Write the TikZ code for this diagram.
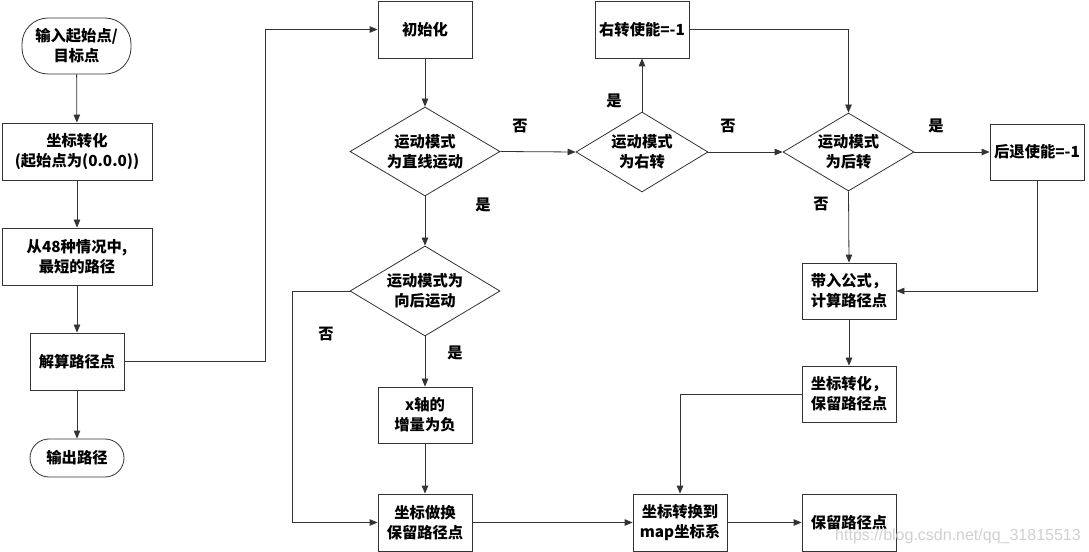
\documentclass[tikz,border=0pt]{standalone}
\usepackage{fontspec}
\setmainfont{Noto Sans CJK SC}[BoldFont={Noto Sans CJK SC Black}]
\newfontfamily\wmfont{Liberation Sans}
\usetikzlibrary{shapes.geometric,arrows.meta}
\newcommand\nodefont{\fontsize{15.3bp}{20bp}\selectfont\bfseries}
\begin{document}
\begin{tikzpicture}[x=1bp,y=-1bp,
  box/.style={draw=black!80, line width=0.8bp, minimum width=94bp, minimum height=57bp, inner sep=0pt, align=center, font=\nodefont},
  term/.style={box, rounded corners=#1},
  dia/.style={draw=black!80, line width=0.8bp, diamond, inner sep=0pt},
  dtext/.style={label={[align=center, font=\nodefont]center:#1}},
  arr/.style={-{Triangle[length=8bp,width=6.5bp]}, draw=black!80, line width=0.8bp},
  ln/.style={draw=black!80, line width=0.8bp},
  lbl/.style={font=\nodefont, inner sep=0pt}]
\useasboundingbox[fill=white] (0,0) rectangle (1089,552);

% left column
\node[term=26bp, minimum width=109bp, minimum height=56bp] (t1) at (76.5,46) {输入起始点/\\目标点};
\node[box, minimum width=150bp] (b1) at (77,151.5) {坐标转化\\(起始点为(0.0.0))};
\node[box, minimum width=150bp] (b2) at (77,256.5) {从48种情况中,\\最短的路径};
\node[box] (b3) at (77,361.5) {解算路径点};
\node[term=19bp, minimum height=38bp] (t2) at (77,458) {输出路径};

% middle column
\node[box] (b4) at (425,29.5) {初始化};
\node[dia, minimum width=150bp, minimum height=89bp, dtext={运动模式\\为直线运动}] (d1) at (425,151.5) {};
\node[dia, minimum width=150bp, minimum height=90bp, dtext={运动模式为\\向后运动}] (d2) at (425,291) {};
\node[box, minimum height=56bp] (b5) at (425,415) {x轴的\\增量为负};
\node[box] (b6) at (425,522.5) {坐标做换\\保留路径点};
\node[box] (b7) at (680,522.5) {坐标转换到\\map坐标系};

% right part
\node[dia, minimum width=132bp, minimum height=80bp, dtext={运动模式\\为右转}] (d3) at (642,152) {};
\node[box] (b8) at (642,29.5) {右转使能=-1};
\node[dia, minimum width=131bp, minimum height=78bp, dtext={运动模式\\为后转}] (d4) at (848.5,152) {};
\node[box, minimum height=56bp] (b9) at (1037,152) {后退使能=-1};
\node[box, minimum height=56bp] (b10) at (849,291) {带入公式，\\计算路径点};
\node[box, minimum height=56bp] (b11) at (849,394) {坐标转化，\\保留路径点};
\node[box] (b12) at (849,522.5) {保留路径点};

% connectors
\draw[arr] (t1) -- (b1);
\draw[arr] (b1) -- (b2);
\draw[arr] (b2) -- (b3);
\draw[arr] (b3) -- (t2);
\draw[arr] (b3.east) -- ++(141,0) |- (b4.west);
\draw[arr] (b4) -- (d1.north);
\draw[arr] (d1.east) -- (d3.west);
\draw[arr] (d1.south) -- (d2.north);
\draw[arr] (d2.south) -- (b5.north);
\draw[arr] (b5) -- (b6);
\draw[arr] (d2.west) -- ++(-57,0) |- (b6.west);
\draw[arr] (b6) -- (b7);
\draw[arr] (d3.north) -- (b8.south);
\draw[arr] (b8.east) -| (d4.north);
\draw[arr] (d3.east) -- (d4.west);
\draw[arr] (d4.east) -- (b9.west);
\draw[arr] (d4.south) -- (b10.north);
\draw[arr] (b9.south) |- (b10.east);
\draw[arr] (b10) -- (b11);
\draw[arr] (b11.west) -| (b7.north);
\draw[arr] (b7) -- (b12);

% branch labels
\node[lbl] (l1) at (520,126) {否};
\node[lbl] (l2) at (483,205) {是};
\node[lbl] (l3) at (614,101) {是};
\node[lbl] (l4) at (728,126) {否};
\node[lbl] (l5) at (936,126) {是};
\node[lbl] (l6) at (821,204) {否};
\node[lbl] (l7) at (326,334) {否};
\node[lbl] (l8) at (455,353) {是};

% watermark
\node[font=\wmfont\fontsize{16bp}{18bp}\selectfont, text=black!18, inner sep=0pt] (wm) at (958,536) {https://blog.csdn.net/qq\_31815513};
\end{tikzpicture}
\end{document}
